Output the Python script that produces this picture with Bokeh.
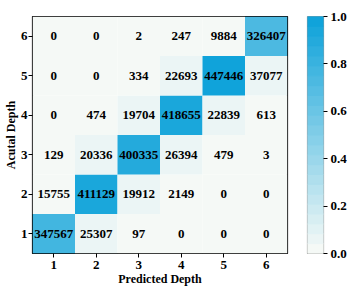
from bokeh.plotting import figure
from bokeh.layouts import row
from bokeh.models import ColumnDataSource, LinearColorMapper, FixedTicker, PrintfTickFormatter
from bokeh.core.properties import value
from bokeh.embed import file_html
from bokeh.resources import INLINE
import numpy as np

actual = [1, 2, 3, 4, 5, 6]
predicted = [1, 2, 3, 4, 5, 6]
# counts[row actual-1][col predicted-1]
counts = [
    [347567, 25307, 97, 0, 0, 0],
    [15755, 411129, 19912, 2149, 0, 0],
    [129, 20336, 400335, 26394, 479, 3],
    [0, 474, 19704, 418655, 22839, 613],
    [0, 0, 334, 22693, 447446, 37077],
    [0, 0, 2, 247, 9884, 326407],
]
cbar_ticks = [0.0, 0.2, 0.4, 0.6, 0.8, 1.0]

xs, ys, norm, labels = [], [], [], []
mx = max(max(r) for r in counts)
for i, a in enumerate(actual):
    for j, pr in enumerate(predicted):
        xs.append(pr)
        ys.append(a)
        norm.append(counts[i][j] / mx)
        labels.append(str(counts[i][j]))
src = ColumnDataSource(dict(x=xs, y=ys, v=norm, label=labels))

NLEV = 24
lo = np.array([245, 249, 246])
hi = np.array([16, 163, 218])
palette = []
for t in np.linspace(0, 1, NLEV):
    c = (lo + (hi - lo) * t).round().astype(int)
    palette.append("#%02x%02x%02x" % tuple(c))
mapper = LinearColorMapper(palette=palette, low=0, high=1)

FONT = "Liberation Serif"
FS = "13px"
FSL = "12px"
p = figure(width=295, height=288, x_range=(0.5, 6.5), y_range=(0.5, 6.5),
           output_backend="svg", toolbar_location=None,
           min_border_left=24, min_border_top=15, min_border_bottom=29, min_border_right=8)
p.rect(x="x", y="y", width=1, height=1, source=src,
       fill_color={"field": "v", "transform": mapper}, line_color=None)
p.text(x="x", y="y", text="label", source=src, text_align="center", text_baseline="middle",
       text_font=value(FONT), text_font_style="bold", text_font_size=FS, text_color="black")

p.grid.visible = False
p.outline_line_color = "black"
p.outline_line_width = 1.2
p.outline_line_alpha = 1
for ax in (p.xaxis, p.yaxis):
    ax.ticker = FixedTicker(ticks=actual)
    ax.major_label_text_font = FONT
    ax.major_label_text_font_style = "bold"
    ax.major_label_text_font_size = FS
    ax.major_label_text_color = "black"
    ax.axis_label_text_font = FONT
    ax.axis_label_text_font_style = "bold"
    ax.axis_label_text_font_size = FSL
    ax.axis_label_text_color = "black"
    ax.minor_tick_line_color = None
    ax.major_tick_out = 4
    ax.major_tick_in = 0
    ax.major_tick_line_color = "black"
    ax.axis_line_color = None
    ax.major_label_standoff = 1
    ax.axis_label_standoff = 0
p.xaxis.major_label_standoff = 3
p.xaxis.axis_label = "Predicted Depth"
p.yaxis.axis_label = "Acutal Depth"

# colour bar as its own small figure
lev = np.arange(NLEV)
csrc = ColumnDataSource(dict(x=[0.5] * NLEV, y=(lev + 0.5) / NLEV, c=palette))
cbf = figure(width=54, height=288, x_range=(0, 1), y_range=(0, 1),
             output_backend="svg", toolbar_location=None, y_axis_location="right",
             min_border_left=12, min_border_top=16, min_border_bottom=29, min_border_right=20)
cbf.rect(x="x", y="y", width=1, height=1.0 / NLEV, source=csrc, fill_color="c", line_color="c")
cbf.grid.visible = False
cbf.xaxis.visible = False
cbf.outline_line_color = "#9a9a9a"
cbf.outline_line_width = 1.2
ya = cbf.yaxis
ya.ticker = FixedTicker(ticks=cbar_ticks)
ya.formatter = PrintfTickFormatter(format="%.1f")
ya.major_label_text_font = FONT
ya.major_label_text_font_style = "bold"
ya.major_label_text_font_size = FS
ya.major_label_text_color = "black"
ya.minor_tick_line_color = None
ya.major_tick_out = 4
ya.major_tick_in = 0
ya.major_tick_line_color = "black"
ya.axis_line_color = None
ya.major_label_standoff = 3

layout = row(p, cbf, spacing=0)
open("out.html", "w").write(file_html(layout, INLINE))
